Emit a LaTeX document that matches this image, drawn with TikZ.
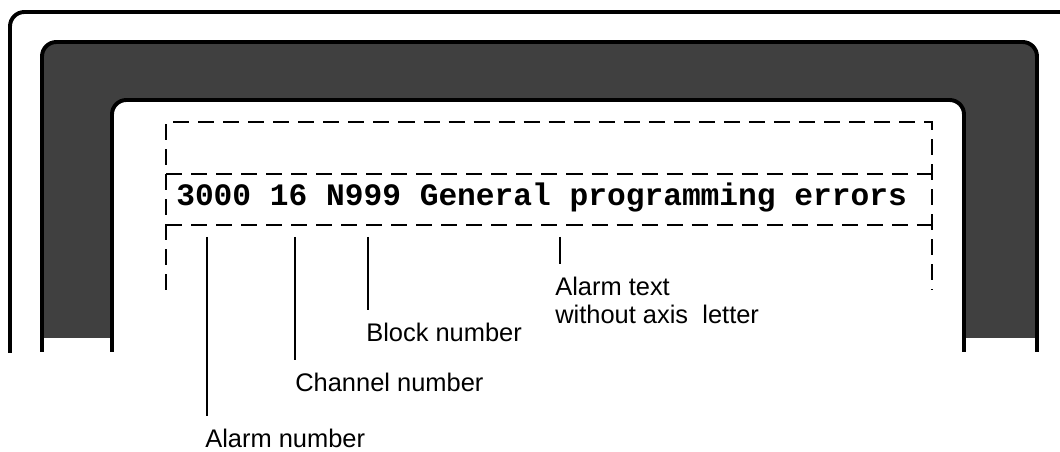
\documentclass[tikz,border=0pt]{standalone}
\usepackage{fontspec}
\setsansfont{Liberation Sans}
\setmonofont{Liberation Mono}
\usepackage{tikz}
\usepackage{xcolor}
\usetikzlibrary{positioning}
\definecolor{bezel}{gray}{0.25}
\tikzset{
  housing/.style={line width=2.8pt, rounded corners=0.36cm},
  field/.style={line width=1.1pt, dash pattern=on 11.4pt off 6.4pt},
  leader/.style={line width=0.75pt, shorten >=0.32cm},
  caption/.style={font=\sffamily\fontsize{18.1}{20}\selectfont, anchor=north west, inner sep=0pt, align=left},
  alarmline/.style={font=\ttfamily\bfseries\fontsize{22.2}{24}\selectfont, anchor=base west, inner sep=0pt}
}

\begin{document}
\begin{tikzpicture}[x=0.025cm, y=-0.025cm]
    \useasboundingbox (0,0) rectangle (1060,452);

    % Outer housing
    \draw[housing] (10,353) -- (10,12) -- (1074,12) -- (1074,353);

    % Dark bezel round the screen
    \begin{scope}
        \clip (0,0) rectangle (1060,338);
        \fill[bezel, even odd rule, rounded corners=0.36cm]
            (42,42) rectangle (1037,400) (112,100) rectangle (964,400);
    \end{scope}
    \draw[housing] (42,352) -- (42,42) -- (1037,42) -- (1037,352);
    \draw[housing] (112,352) -- (112,100) -- (964,100) -- (964,352);

    % Dashed display field
    \draw[field] (166,290) -- (166,122) -- (932,122) -- (932,290);
    \draw[field] (166,174) -- (937,174);
    \draw[field] (166,225) -- (937,225);

    % Alarm line
    \node[alarmline] (msg) at (176,206) {3000 16 N999 General programming errors};

    % Leader tops
    \coordinate (pAlarm)   at (207,237);
    \coordinate (pChannel) at (295,237);
    \coordinate (pBlock)   at (368,237);
    \coordinate (pText)    at (560,237);

    % Captions
    \node[caption] (lAlarm)   at (205,429) {Alarm number};
    \node[caption] (lChannel) at (295,373) {Channel number};
    \node[caption] (lBlock)   at (366,323) {Block number};
    \node[caption] (lText)    at (555,277) {Alarm text\\without axis\ \ letter};

    % Leaders
    \foreach \p/\l in {pAlarm/lAlarm, pChannel/lChannel, pBlock/lBlock, pText/lText}
        \draw[leader] (\p) -- (\p |- \l.north);
\end{tikzpicture}
\end{document}
